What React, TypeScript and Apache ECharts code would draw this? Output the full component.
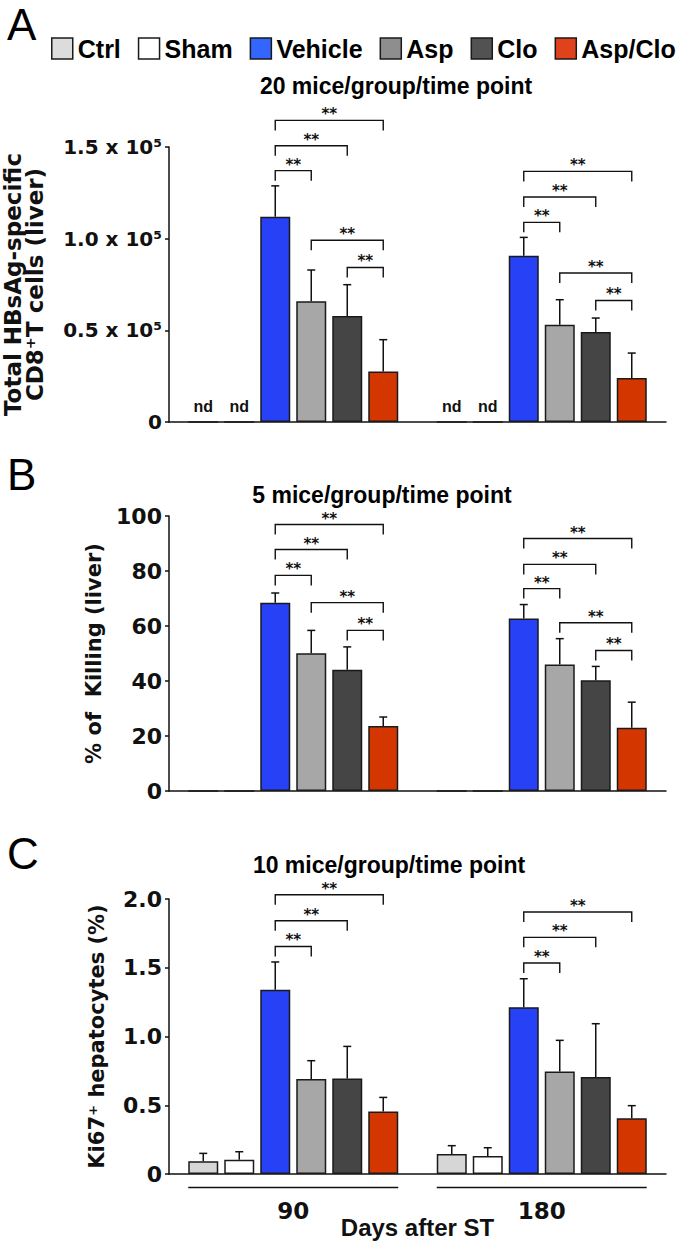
import React, { useEffect, useRef } from 'react';
import * as echarts from 'echarts';

// ---------- data ----------
const categories = ['90', '180'];
const groups = ['Ctrl', 'Sham', 'Vehicle', 'Asp', 'Clo', 'Asp/Clo'];
const barColors = ['#d6d6d6', '#ffffff', '#2742f6', '#a7a7a7', '#454545', '#d43600'];
const legendColors = ['#dcdcdc', '#ffffff', '#3366ff', '#8e8e8e', '#525252', '#e0431c'];

// Panel A: total HBsAg-specific CD8+ T cells (liver), 20 mice/group/time point
const aCtrl = [0, 0];
const aSham = [0, 0];
const aVehicle = [112000, 90700];
const aAsp = [65800, 53100];
const aClo = [57800, 49100];
const aAspClo = [27600, 24000];
const aVehicleErr = [16800, 10000];
const aAspErr = [17100, 13600];
const aCloErr = [17100, 7600];
const aAspCloErr = [17300, 13600];
// [time point index, from group, to group, bracket level]
const aBrackets = [
  [0, 2, 3, 137100], [0, 2, 4, 150700], [0, 2, 5, 164500], [0, 3, 5, 99100], [0, 4, 5, 84300],
  [1, 2, 3, 108900], [1, 2, 4, 122700], [1, 2, 5, 136700], [1, 3, 5, 81300], [1, 4, 5, 66300],
];
const aTicks = [0, 50000, 100000, 150000];

// Panel B: % of killing (liver), 5 mice/group/time point
const bCtrl = [0, 0];
const bSham = [0, 0];
const bVehicle = [68.5, 62.7];
const bAsp = [50.1, 46.0];
const bClo = [44.1, 40.3];
const bAspClo = [23.6, 23.0];
const bVehicleErr = [3.5, 5.1];
const bAspErr = [8.3, 9.4];
const bCloErr = [8.3, 5.0];
const bAspCloErr = [3.3, 9.3];
const bBrackets = [
  [0, 2, 3, 78.4], [0, 2, 4, 87.8], [0, 2, 5, 96.9], [0, 3, 5, 68.5], [0, 4, 5, 58.4],
  [1, 2, 3, 73.6], [1, 2, 4, 82.4], [1, 2, 5, 91.8], [1, 3, 5, 61.2], [1, 4, 5, 51.1],
];
const bTicks = [0, 20, 40, 60, 80, 100];

// Panel C: Ki67+ hepatocytes (%), 10 mice/group/time point
const cCtrl = [0.092, 0.145];
const cSham = [0.104, 0.131];
const cVehicle = [1.34, 1.212];
const cAsp = [0.691, 0.746];
const cClo = [0.695, 0.705];
const cAspClo = [0.455, 0.405];
const cCtrlErr = [0.058, 0.061];
const cShamErr = [0.058, 0.06];
const cVehicleErr = [0.202, 0.208];
const cAspErr = [0.133, 0.226];
const cCloErr = [0.233, 0.388];
const cAspCloErr = [0.102, 0.092];
const cBrackets = [
  [0, 2, 3, 1.655], [0, 2, 4, 1.842], [0, 2, 5, 2.031],
  [1, 2, 3, 1.535], [1, 2, 4, 1.721], [1, 2, 5, 1.905],
];
const cTicks = [0, 0.5, 1.0, 1.5, 2.0];

const panelTitles = ['20 mice/group/time point', '5 mice/group/time point', '10 mice/group/time point'];
const panelLetters = ['A', 'B', 'C'];
const yNames = ['Total HBsAg-specific\nCD8\u207AT cells (liver)', '% of  Killing (liver)', 'Ki67\u207A hepatocytes (%)'];
const xName = 'Days after ST';

// ---------- layout / style ----------
const BAR_W = 30;
const PITCH = 36; // bar width + gap (barGap 20%)
const INK = '#111';
const GRIDS = [
  { left: 169, top: 147, width: 497, height: 275 },
  { left: 169, top: 516, width: 497, height: 275 },
  { left: 169, top: 899, width: 497, height: 275 },
];
const TICK_FONT = 'DejaVu Sans';
const TITLE_FONT = 'Liberation Sans';

const means = [
  [aCtrl, aSham, aVehicle, aAsp, aClo, aAspClo],
  [bCtrl, bSham, bVehicle, bAsp, bClo, bAspClo],
  [cCtrl, cSham, cVehicle, cAsp, cClo, cAspClo],
];
const errs = [
  [null, null, aVehicleErr, aAspErr, aCloErr, aAspCloErr],
  [null, null, bVehicleErr, bAspErr, bCloErr, bAspCloErr],
  [cCtrlErr, cShamErr, cVehicleErr, cAspErr, cCloErr, cAspCloErr],
];
const brackets = [aBrackets, bBrackets, cBrackets];
const ticks = [aTicks, bTicks, cTicks];

function buildOption() {
  const series: any[] = [];
  for (let p = 0; p < 3; p++) {
    groups.forEach((g, i) => {
      const isND = p === 0 && i < 2;
      series.push({
        type: 'bar',
        name: g,
        xAxisIndex: p,
        yAxisIndex: p,
        data: means[p][i],
        barWidth: BAR_W,
        barGap: '20%',
        itemStyle: { color: barColors[i], borderColor: '#1a1a1a', borderWidth: 1.5 },
        emphasis: { disabled: true },
        silent: true,
        label: isND
          ? {
              show: true,
              position: 'top',
              distance: 7,
              formatter: 'nd',
              fontSize: 16,
              fontWeight: 'bold',
              fontFamily: TITLE_FONT,
              color: INK,
            }
          : { show: false },
      });
    });
    // error bars
    const errData: number[][] = [];
    groups.forEach((g, i) => {
      const e = errs[p][i];
      if (!e) return;
      categories.forEach((c, ci) => errData.push([ci, i, means[p][i][ci], e[ci]]));
    });
    series.push({
      type: 'custom',
      xAxisIndex: p,
      yAxisIndex: p,
      clip: false,
      silent: true,
      z: 5,
      encode: { x: 0, y: 2 },
      data: errData,
      renderItem: (params: any, api: any) => {
        const ci = api.value(0);
        const gi = api.value(1);
        const m = api.value(2);
        const e = api.value(3);
        const base = api.coord([ci, m]);
        const top = api.coord([ci, m + e]);
        const x = base[0] + (gi - 2.5) * PITCH;
        const st = { stroke: INK, lineWidth: 1.5 };
        return {
          type: 'group',
          children: [
            { type: 'line', shape: { x1: x, y1: base[1], x2: x, y2: top[1] }, style: st },
            { type: 'line', shape: { x1: x - 4, y1: top[1], x2: x + 4, y2: top[1] }, style: st },
          ],
        };
      },
    });
    // significance brackets
    series.push({
      type: 'custom',
      xAxisIndex: p,
      yAxisIndex: p,
      clip: false,
      silent: true,
      z: 5,
      encode: { x: 0, y: 3 },
      data: brackets[p],
      renderItem: (params: any, api: any) => {
        const ci = api.value(0);
        const from = api.value(1);
        const to = api.value(2);
        const lvl = api.value(3);
        const pt = api.coord([ci, lvl]);
        const x1 = pt[0] + (from - 2.5) * PITCH;
        const x2 = pt[0] + (to - 2.5) * PITCH;
        const y = pt[1];
        return {
          type: 'group',
          children: [
            {
              type: 'polyline',
              shape: { points: [[x1, y + 10], [x1, y], [x2, y], [x2, y + 10]] },
              style: { stroke: INK, lineWidth: 1.4, fill: 'none' },
            },
            {
              type: 'text',
              style: {
                text: '**',
                x: (x1 + x2) / 2,
                y: y - 6,
                align: 'center',
                verticalAlign: 'middle',
                fontSize: 15,
                fontWeight: 'bold',
                fontFamily: TICK_FONT,
                fill: INK,
              },
            },
          ],
        };
      },
    });
  }
  // group underline (panel C)
  series.push({
    type: 'custom',
    xAxisIndex: 2,
    yAxisIndex: 2,
    clip: false,
    silent: true,
    encode: { x: 0, y: 1 },
    data: categories.map((c, ci) => [ci, 0]),
    renderItem: (params: any, api: any) => {
      const pt = api.coord([api.value(0), 0]);
      const half = 3 * PITCH - (PITCH - BAR_W) / 2;
      return {
        type: 'line',
        shape: { x1: pt[0] - half, y1: pt[1] + 13.5, x2: pt[0] + half, y2: pt[1] + 13.5 },
        style: { stroke: INK, lineWidth: 1.5 },
      };
    },
  });

  const xAxis = GRIDS.map((g, p) => ({
    type: 'category',
    gridIndex: p,
    data: categories,
    axisLine: { lineStyle: { color: INK, width: 1.5 } },
    axisTick: { alignWithLabel: true, length: 5, lineStyle: { color: INK, width: 1.5 } },
    axisLabel: {
      show: p === 2,
      margin: 25,
      fontSize: 23,
      fontWeight: 'bold',
      fontFamily: TICK_FONT,
      color: INK,
    },
    name: p === 2 ? xName : '',
    nameLocation: 'middle',
    nameGap: 41,
    nameMoveOverlap: false,
    nameTextStyle: { fontSize: 24, fontWeight: 'bold', fontFamily: TITLE_FONT, color: INK },
  }));

  const yFormat = [
    (v: number) => (v === 0 ? '0' : `${(v / 1e5).toFixed(1)} x 10\u2075`),
    (v: number) => String(v),
    (v: number) => (v === 0 ? '0' : v.toFixed(1)),
  ];
  const yNameGap = [123, 59, 61];
  const yNameSize = [23, 21, 21];
  const yAxis = GRIDS.map((g, p) => {
    const t = ticks[p];
    return {
      type: 'value',
      gridIndex: p,
      min: t[0],
      max: t[t.length - 1],
      interval: t[1] - t[0],
      axisLine: { show: true, lineStyle: { color: INK, width: 1.5 } },
      axisTick: { show: true, length: 4, lineStyle: { color: INK, width: 1.5 } },
      splitLine: { show: false },
      axisLabel: {
        formatter: yFormat[p],
        margin: 7,
        fontSize: p === 0 ? 20 : 22,
        fontWeight: 'bold',
        fontFamily: TICK_FONT,
        color: INK,
      },
      name: yNames[p],
      nameLocation: 'middle',
      nameRotate: 90,
      nameGap: yNameGap[p],
      nameTextStyle: {
        fontSize: yNameSize[p],
        fontWeight: 'bold',
        fontFamily: TICK_FONT,
        color: INK,
        lineHeight: 22,
      },
    };
  });

  const letterY = [24, 474, 853];
  const titleY = [86, 495, 865];
  const titleX = [396, 382, 389];
  const graphic: any[] = [];
  for (let p = 0; p < 3; p++) {
    graphic.push({
      type: 'text',
      x: 7,
      y: letterY[p],
      style: {
        text: panelLetters[p],
        fontSize: 44,
        fontWeight: 'normal',
        fontFamily: TITLE_FONT,
        fill: '#000',
        verticalAlign: 'middle',
        align: 'left',
      },
    });
    graphic.push({
      type: 'text',
      x: titleX[p],
      y: titleY[p],
      style: {
        text: panelTitles[p],
        fontSize: 23,
        fontWeight: 'bold',
        fontFamily: TITLE_FONT,
        fill: '#000',
        verticalAlign: 'middle',
        align: 'center',
      },
    });
  }

  return {
    animation: false,
    backgroundColor: '#ffffff',
    grid: GRIDS.map((g) => ({ ...g, containLabel: false, outerBoundsMode: 'none' })),
    xAxis,
    yAxis,
    legend: {
      left: 51,
      top: 36,
      width: 632,
      padding: 0,
      itemWidth: 21,
      itemHeight: 21,
      itemGap: 17,
      icon: 'rect',
      selectedMode: false,
      textStyle: { fontSize: 25, fontWeight: 'bold', fontFamily: TITLE_FONT, color: '#000' },
      data: groups.map((g, i) => ({
        name: g,
        itemStyle: { color: legendColors[i], borderColor: '#1a1a1a', borderWidth: 1.5 },
      })),
    },
    graphic,
    series,
  };
}

export default function App() {
  const ref = useRef<HTMLDivElement>(null);
  useEffect(() => {
    if (!ref.current) return;
    const chart = echarts.init(ref.current, null, { renderer: 'svg' });
    chart.setOption(buildOption() as any);
    return () => chart.dispose();
  }, []);
  return (
    <div
      ref={ref}
      style={{ position: 'absolute', left: 0, top: 0, width: 683, height: 1241, background: '#fff' }}
    />
  );
}
